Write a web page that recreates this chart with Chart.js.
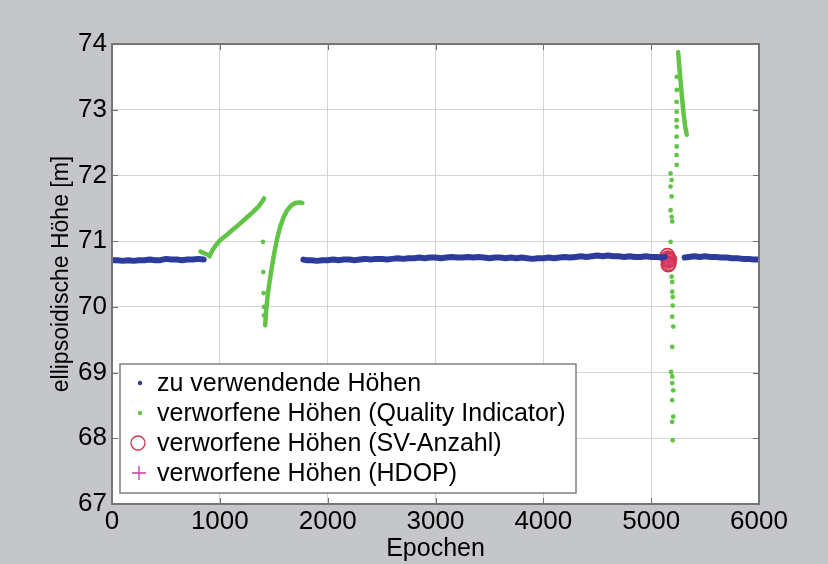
<!DOCTYPE html>
<html>
<head>
<meta charset="utf-8">
<script src="https://cdn.jsdelivr.net/npm/chart.js@4.4.1/dist/chart.umd.min.js"></script>
<style>
  html, body { margin: 0; padding: 0; background: #c5c6c9; }
  canvas { display: block; }
</style>
</head>
<body>
<canvas id="hoehen" width="828" height="564"></canvas>
<script>
// Achsen
const xTicks = [0, 1000, 2000, 3000, 4000, 5000, 6000];
const yTicks = [67, 68, 69, 70, 71, 72, 73, 74];

// zu verwendende Höhen (null = Lücke)
const blauEpochen = [
  0, 50, 100, 150, 200, 250, 300, 350, 400, 450, 500, 550, 600, 650, 700, 750, 800, 850,
  860,
  1775, 1800, 1850, 1900, 1950, 2000, 2050, 2100, 2150, 2200, 2250, 2300, 2350, 2400, 2450,
  2500, 2550, 2600, 2650, 2700, 2750, 2800, 2850, 2900, 2950, 3000, 3050, 3100, 3150, 3200,
  3250, 3300, 3350, 3400, 3450, 3500, 3550, 3600, 3650, 3700, 3750, 3800, 3850, 3900, 3950,
  4000, 4050, 4100, 4150, 4200, 4250, 4300, 4350, 4400, 4450, 4500, 4550, 4600, 4650, 4700,
  4750, 4800, 4850, 4900, 4950, 5000, 5050, 5100, 5125,
  5200,
  5310, 5350, 5400, 5450, 5500, 5550, 5600, 5650, 5700, 5750, 5800, 5850, 5900, 5950, 6000
];
const blauHoehen = [
  70.71, 70.71, 70.70, 70.71, 70.70, 70.71, 70.71, 70.72, 70.71, 70.71, 70.73, 70.72, 70.72, 70.71, 70.72, 70.72, 70.73, 70.72,
  null,
  70.72, 70.71, 70.71, 70.70, 70.71, 70.71, 70.72, 70.71, 70.72, 70.72, 70.71, 70.72, 70.73, 70.72, 70.73,
  70.73, 70.72, 70.73, 70.74, 70.73, 70.74, 70.74, 70.75, 70.74, 70.75, 70.75, 70.74, 70.75, 70.76, 70.75,
  70.75, 70.76, 70.75, 70.76, 70.75, 70.74, 70.75, 70.75, 70.74, 70.75, 70.74, 70.75, 70.74, 70.73, 70.74,
  70.74, 70.75, 70.74, 70.75, 70.76, 70.75, 70.76, 70.77, 70.76, 70.77, 70.78, 70.77, 70.78, 70.77, 70.77,
  70.76, 70.77, 70.76, 70.76, 70.77, 70.76, 70.76, 70.75, 70.76,
  null,
  70.75, 70.76, 70.77, 70.76, 70.77, 70.76, 70.76, 70.75, 70.75, 70.74, 70.74, 70.73, 70.73, 70.72, 70.72
];

// verworfene Höhen (Quality Indicator): dichte Abschnitte
const gruenLinieEpochen = [
  820, 850, 880, 905, 930, 960, 1000, 1060, 1125, 1190, 1250, 1310, 1360, 1400, 1410,
  1415,
  1420, 1430, 1445, 1465, 1485, 1505, 1530, 1560, 1590, 1620, 1660, 1700, 1740, 1765,
  1800,
  5250, 5260, 5270, 5285, 5300, 5315, 5330
];
const gruenLinieHoehen = [
  70.84, 70.82, 70.80, 70.77, 70.86, 70.93, 71.01, 71.09, 71.18, 71.27, 71.36, 71.45, 71.53, 71.62, 71.65,
  null,
  69.72, 69.95, 70.20, 70.42, 70.63, 70.82, 71.03, 71.22, 71.36, 71.46, 71.54, 71.58, 71.59, 71.58,
  null,
  73.88, 73.68, 73.48, 73.20, 72.95, 72.75, 72.62
];

// verworfene Höhen (Quality Indicator): Einzelpunkte
const gruenPunktEpochen = [
  1400, 1403, 1406, 1408, 1410,
  5237, 5238, 5236, 5237, 5236, 5237, 5236, 5237, 5236, 5237,
  5180, 5190, 5180, 5190, 5180, 5190, 5195, 5180,
  5190, 5195, 5195, 5200, 5200, 5195, 5205, 5195, 5185, 5195, 5195, 5205, 5195, 5205, 5195, 5200
];
const gruenPunktHoehen = [
  70.99, 70.53, 70.21, 70.00, 69.87,
  73.50, 73.30, 73.12, 72.97, 72.84, 72.74, 72.59, 72.44, 72.31, 72.16,
  72.03, 71.93, 71.83, 71.68, 71.47, 71.37, 71.30, 70.99,
  70.46, 70.38, 70.23, 70.15, 70.02, 69.85, 69.70, 69.39, 69.01, 68.94, 68.84, 68.73, 68.58, 68.33, 68.25, 67.97
];

// verworfene Höhen (SV-Anzahl)
const svEpochen = [5150, 5155, 5160, 5165, 5170, 5158];
const svHoehen = [70.78, 70.74, 70.70, 70.66, 70.72, 70.64];

// verworfene Höhen (HDOP)
const hdopEpochen = [5155, 5160, 5165];
const hdopHoehen = [70.74, 70.70, 70.68];

const legendeTexte = [
  'zu verwendende Höhen',
  'verworfene Höhen (Quality Indicator)',
  'verworfene Höhen (SV-Anzahl)',
  'verworfene Höhen (HDOP)'
];

const schrift = "'Liberation Sans', Arial, sans-serif";
const blau = '#2d3c9c';
const gruen = '#62c446';
const rot = '#d2324e';
const magenta = '#c43aa8';

const punkte = (xs, ys) => xs.map((x, i) => ({ x: x, y: ys[i] }));

// weisser Plotbereich, Rahmen, Ticks nach innen, Legende im Plot
const rahmen = {
  id: 'rahmen',
  beforeDraw(chart) {
    const { ctx, chartArea: a } = chart;
    ctx.save();
    ctx.fillStyle = '#ffffff';
    ctx.fillRect(a.left, a.top, a.right - a.left, a.bottom - a.top);
    ctx.restore();
  },
  afterDraw(chart) {
    const { ctx, chartArea: a, scales } = chart;
    ctx.save();
    ctx.strokeStyle = '#6e6e6e';
    ctx.lineWidth = 1;
    ctx.beginPath();
    yTicks.forEach(v => {
      const y = Math.round(scales.y.getPixelForValue(v)) + 0.5;
      ctx.moveTo(a.left, y); ctx.lineTo(a.left + 6, y);
      ctx.moveTo(a.right, y); ctx.lineTo(a.right - 6, y);
    });
    xTicks.forEach(v => {
      const x = Math.round(scales.x.getPixelForValue(v)) + 0.5;
      ctx.moveTo(x, a.bottom); ctx.lineTo(x, a.bottom - 6);
      ctx.moveTo(x, a.top); ctx.lineTo(x, a.top + 6);
    });
    ctx.stroke();
    ctx.lineWidth = 2;
    ctx.strokeStyle = '#757575';
    ctx.strokeRect(a.left, a.top, a.right - a.left, a.bottom - a.top);

    // Legende
    const lx = 120, ly = 364, lw = 456, lh = 129;
    ctx.fillStyle = '#ffffff';
    ctx.fillRect(lx, ly, lw, lh);
    ctx.lineWidth = 1.5;
    ctx.strokeStyle = '#808080';
    ctx.strokeRect(lx, ly, lw, lh);
    ctx.font = '25px ' + schrift;
    ctx.textBaseline = 'middle';
    const sx = 140;
    legendeTexte.forEach((t, i) => {
      const y = ly + 19 + i * 30;
      if (i === 0 || i === 1) {
        ctx.beginPath();
        ctx.arc(sx, y, 2.2, 0, Math.PI * 2);
        ctx.fillStyle = i === 0 ? blau : gruen;
        ctx.fill();
      } else if (i === 2) {
        ctx.beginPath();
        ctx.arc(sx - 2, y, 7, 0, Math.PI * 2);
        ctx.lineWidth = 1.3;
        ctx.strokeStyle = rot;
        ctx.stroke();
      } else {
        ctx.beginPath();
        ctx.moveTo(sx - 8, y); ctx.lineTo(sx + 6, y);
        ctx.moveTo(sx - 1, y - 7); ctx.lineTo(sx - 1, y + 7);
        ctx.lineWidth = 1.3;
        ctx.strokeStyle = magenta;
        ctx.stroke();
      }
      ctx.fillStyle = '#000000';
      ctx.fillText(t, 157, y + 1, lw - (157 - lx) - 8);
    });
    ctx.restore();
  }
};

const ctx = document.getElementById('hoehen').getContext('2d');

new Chart(ctx, {
  type: 'scatter',
  data: {
    datasets: [
      {
        label: legendeTexte[0],
        data: punkte(blauEpochen, blauHoehen),
        showLine: true,
        spanGaps: false,
        borderColor: blau,
        borderWidth: 6,
        pointRadius: 0,
        borderCapStyle: 'round',
        borderJoinStyle: 'round'
      },
      {
        label: legendeTexte[1],
        data: punkte(gruenLinieEpochen, gruenLinieHoehen),
        showLine: true,
        spanGaps: false,
        borderColor: gruen,
        borderWidth: 4.5,
        pointRadius: 0,
        borderCapStyle: 'round',
        borderJoinStyle: 'round'
      },
      {
        label: legendeTexte[1],
        data: punkte(gruenPunktEpochen, gruenPunktHoehen),
        pointRadius: 2.4,
        pointBackgroundColor: gruen,
        pointBorderWidth: 0
      },
      {
        label: legendeTexte[2],
        data: punkte(svEpochen, svHoehen),
        pointRadius: 7,
        pointBorderColor: rot,
        pointBorderWidth: 1.5,
        pointBackgroundColor: 'rgba(214, 60, 110, 0.35)'
      },
      {
        label: legendeTexte[3],
        data: punkte(hdopEpochen, hdopHoehen),
        pointStyle: 'cross',
        pointRadius: 6,
        pointBorderColor: magenta,
        pointBorderWidth: 1.3
      }
    ]
  },
  options: {
    responsive: false,
    animation: false,
    devicePixelRatio: 1,
    layout: { padding: { left: 0, top: 44, right: 69, bottom: 0 } },
    plugins: {
      legend: { display: false },
      tooltip: { enabled: false }
    },
    scales: {
      x: {
        type: 'linear',
        min: 0,
        max: 6000,
        afterFit: s => { s.height = 60; },
        afterBuildTicks: s => { s.ticks = xTicks.map(v => ({ value: v })); },
        ticks: {
          color: '#000000',
          font: { family: schrift, size: 26 },
          padding: 2,
          maxRotation: 0,
          callback: v => String(v)
        },
        grid: { color: '#d4d4d4', drawTicks: false },
        border: { display: false },
        title: {
          display: true,
          text: 'Epochen',
          color: '#000000',
          font: { family: schrift, size: 25 },
          padding: { top: 0, bottom: 0 }
        }
      },
      y: {
        type: 'linear',
        min: 67,
        max: 74,
        afterFit: s => { s.width = 112; },
        afterBuildTicks: s => { s.ticks = yTicks.map(v => ({ value: v })); },
        ticks: {
          color: '#000000',
          font: { family: schrift, size: 26 },
          padding: 5,
          callback: v => String(v)
        },
        grid: { color: '#d4d4d4', drawTicks: false },
        border: { display: false },
        title: {
          display: true,
          text: 'ellipsoidische Höhe [m]',
          color: '#000000',
          font: { family: schrift, size: 23 },
          padding: { top: 48, bottom: 0 }
        }
      }
    }
  },
  plugins: [rahmen]
});
</script>
</body>
</html>
